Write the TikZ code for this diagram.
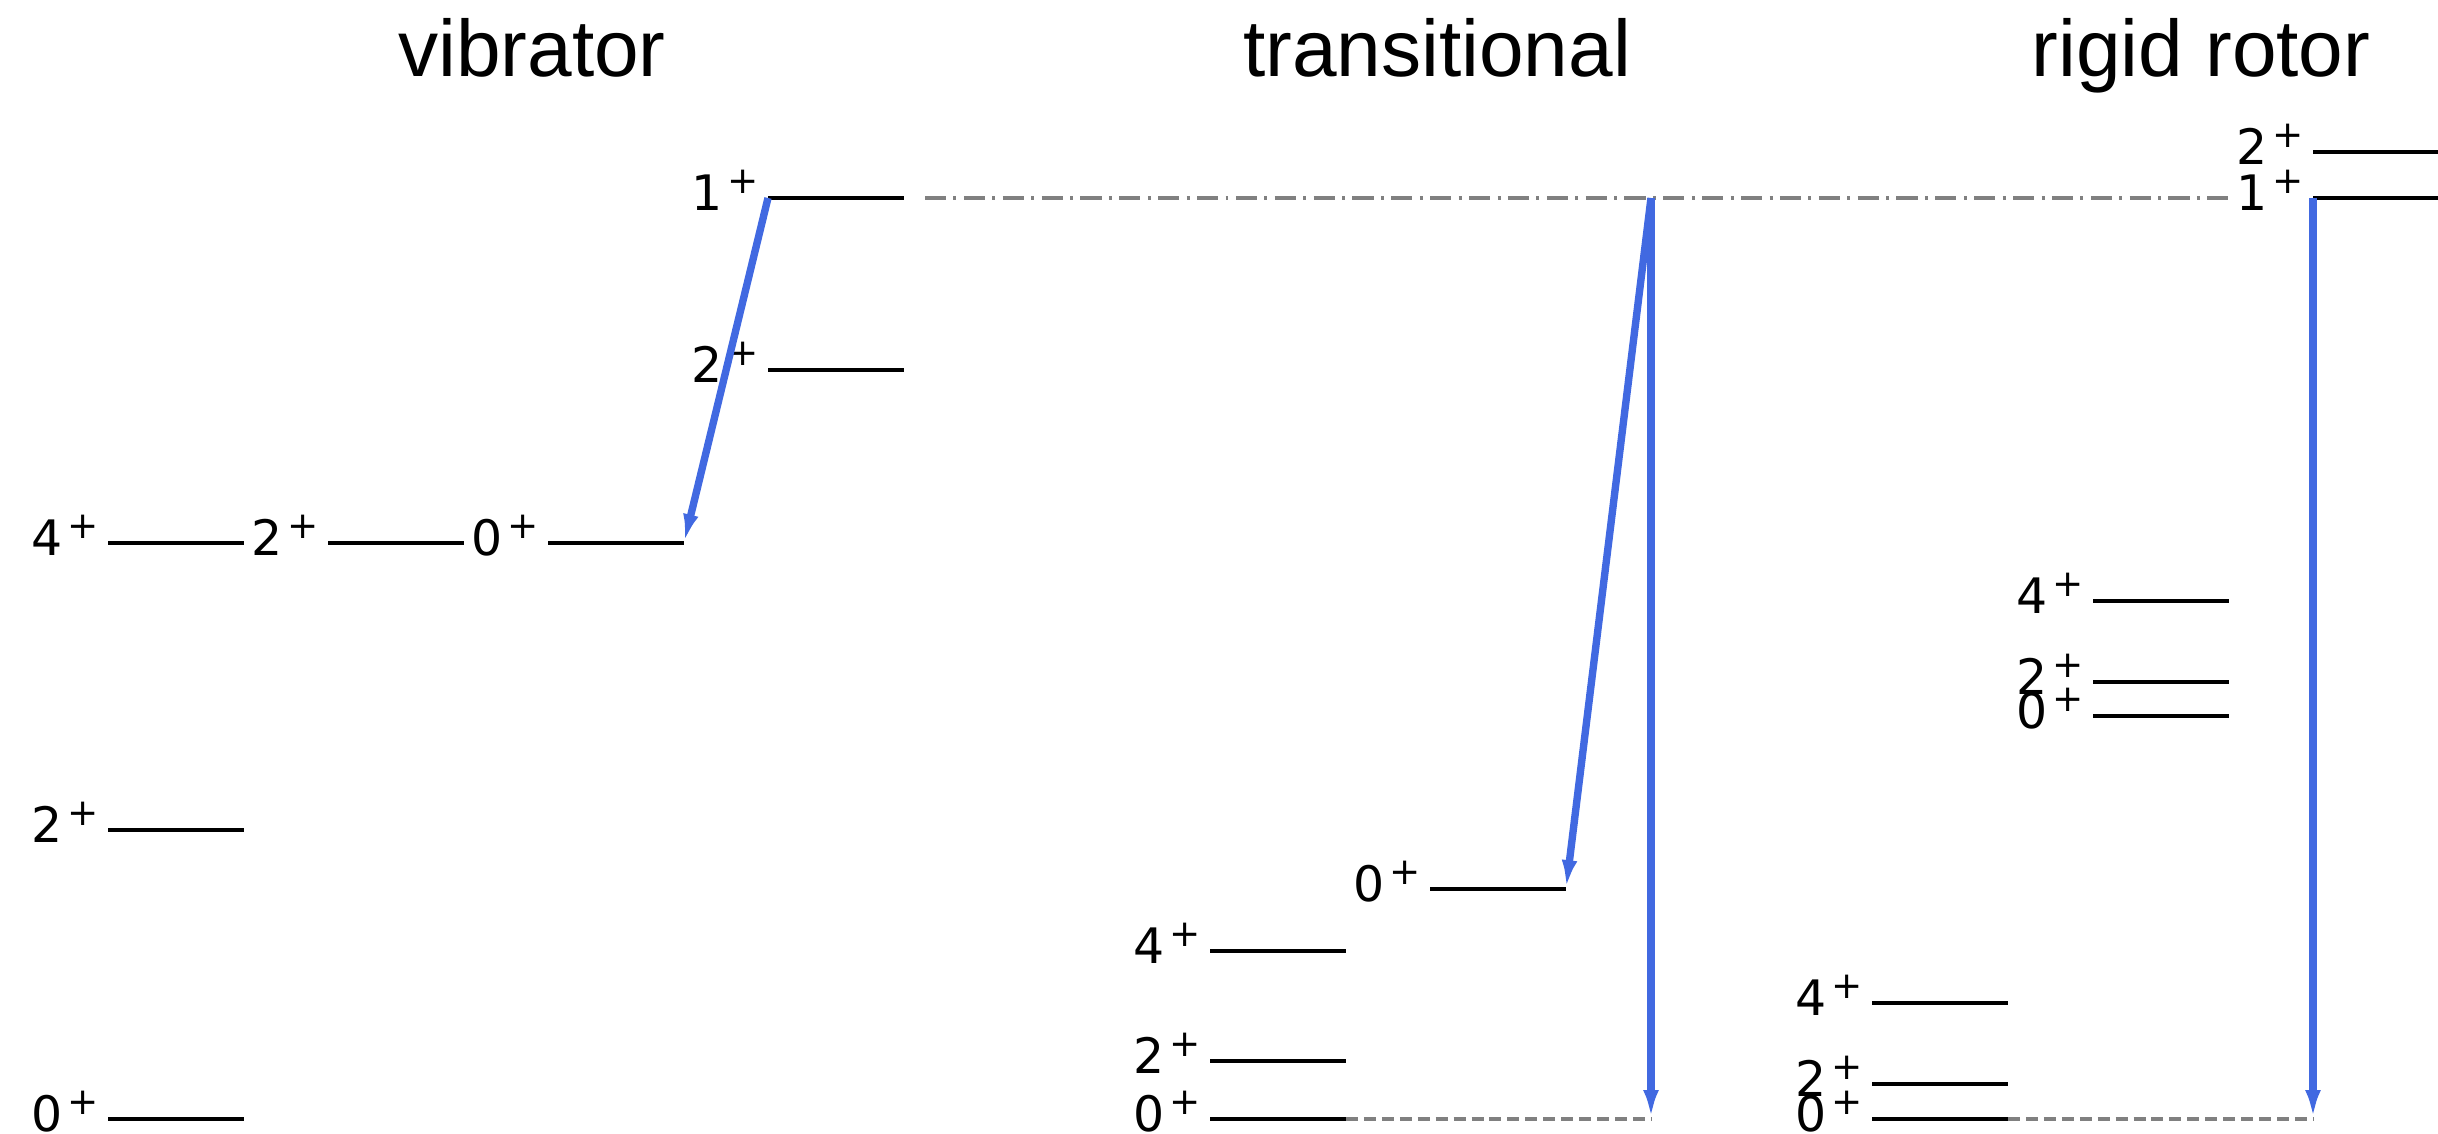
\documentclass[tikz,border=0pt]{standalone}
\usepackage{fontspec}
\setmainfont{DejaVu Sans}
\newfontfamily\titlefont{Liberation Sans}
\usetikzlibrary{arrows.meta}
\definecolor{arrowblue}{HTML}{4169E1}
\definecolor{guidegray}{HTML}{808080}
\tikzset{
  lev/.style={line width=1.35pt, black},
  lab/.style={anchor=base east, inner sep=0pt, outer sep=0pt, font=\fontsize{13.9pt}{14pt}\selectfont},
  ttl/.style={anchor=base, inner sep=0pt, font=\titlefont\fontsize{22.8pt}{24pt}\selectfont},
  trans/.style={arrowblue, line width=2.1pt, -{Latex[length=8.2pt,width=4.4pt]}},
  dashguide/.style={guidegray, line width=0.95pt, dash pattern=on 3.4pt off 1.7pt},
  dashdotguide/.style={guidegray, line width=0.95pt, dash pattern=on 6pt off 2.1pt on 0.85pt off 2.1pt},
}
\newcommand{\parlab}[1]{#1\hspace{1.5pt}\raisebox{5pt}{\fontsize{10.6pt}{11pt}\selectfont +}}
% name, x, y, label
\newcommand{\lvl}[4]{%
  \coordinate (#1a) at (#2,#3);
  \coordinate (#1b) at ({#2+136},#3);
  \draw[lev] (#1a) -- (#1b);
  \node[lab] (#1l) at ({#2-9},{#3+13}) {\parlab{#4}};
}
\begin{document}
\begin{tikzpicture}[x=0.01cm, y=-0.01cm]
\useasboundingbox (0,0) rectangle (2438,1134);
% titles
\node[ttl] (tv) at (532,77) {vibrator};
\node[ttl] (tt) at (1437,77) {transitional};
\node[ttl] (tr) at (2201,77) {rigid rotor};
% vibrator
\lvl{va}{108}{1119}{0}
\lvl{vb}{108}{830}{2}
\lvl{vc}{108}{543}{4}
\lvl{vd}{328}{543}{2}
\lvl{ve}{548}{543}{0}
\lvl{vf}{768}{370}{2}
\lvl{vg}{768}{198}{1}
% transitional
\lvl{ta}{1210}{1119}{0}
\lvl{tb}{1210}{1061}{2}
\lvl{tc}{1210}{951}{4}
\lvl{td}{1430}{889}{0}
% rigid rotor
\lvl{ra}{1872}{1119}{0}
\lvl{rb}{1872}{1084}{2}
\lvl{rc}{1872}{1003}{4}
\lvl{rd}{2093}{716}{0}
\lvl{re}{2093}{682}{2}
\lvl{rf}{2093}{601}{4}
\lvl{rg}{2313}{198}{1}
\lvl{rh}{2313}{152}{2}
% guide lines
\coordinate (tt1) at (1651,198);
\coordinate (tt0) at (1651,1119);
\coordinate (ddstart) at (925,198);
\coordinate (ddend) at (2232,198);
\draw[dashdotguide] (ddstart) -- (ddend);
\draw[dashguide] (tab) -- (tt0);
\draw[dashguide] (rab) -- (rga |- rab);
% transitions
\draw[trans] (vga) -- (veb);
\draw[trans] (tt1) -- (tdb);
\draw[trans] (tt1) -- (tt0);
\draw[trans] (rga) -- (rga |- rab);
\end{tikzpicture}
\end{document}
